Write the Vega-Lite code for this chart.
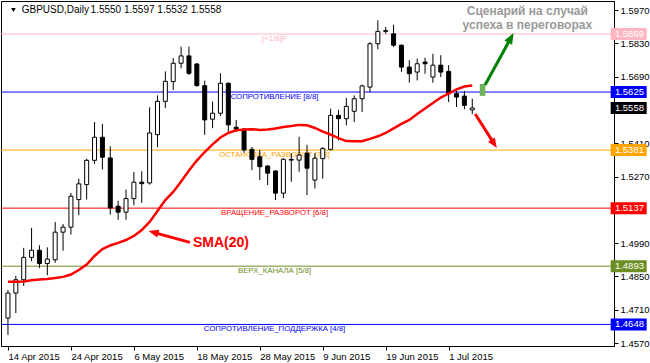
{
  "$schema": "https://vega.github.io/schema/vega-lite/v6.json",
  "width": 613,
  "height": 345,
  "autosize": {"type": "none"},
  "padding": {"left": 1, "top": 1, "right": 36, "bottom": 17},
  "background": "white",
  "config": {"view": {"stroke": "black", "strokeWidth": 1}, "font": "Liberation Sans"},
  "datasets": {
    "bars": [
      {"date": "14 Apr 2015", "i": 0, "open": 1.4675, "high": 1.4793, "low": 1.4604, "close": 1.4780, "sma": 1.4827},
      {"date": "15 Apr 2015", "i": 1, "open": 1.4780, "high": 1.4852, "low": 1.4696, "close": 1.4836, "sma": 1.4827},
      {"date": "16 Apr 2015", "i": 2, "open": 1.4836, "high": 1.4970, "low": 1.4810, "close": 1.4930, "sma": 1.4829},
      {"date": "17 Apr 2015", "i": 3, "open": 1.4930, "high": 1.5054, "low": 1.4914, "close": 1.4960, "sma": 1.4834},
      {"date": "20 Apr 2015", "i": 4, "open": 1.4960, "high": 1.4981, "low": 1.4885, "close": 1.4904, "sma": 1.4837},
      {"date": "21 Apr 2015", "i": 5, "open": 1.4904, "high": 1.4972, "low": 1.4855, "close": 1.4923, "sma": 1.4839},
      {"date": "22 Apr 2015", "i": 6, "open": 1.4920, "high": 1.5079, "low": 1.4907, "close": 1.5036, "sma": 1.4843},
      {"date": "23 Apr 2015", "i": 7, "open": 1.5036, "high": 1.5070, "low": 1.4958, "close": 1.5057, "sma": 1.4848},
      {"date": "24 Apr 2015", "i": 8, "open": 1.5057, "high": 1.5201, "low": 1.5026, "close": 1.5187, "sma": 1.4858},
      {"date": "27 Apr 2015", "i": 9, "open": 1.5173, "high": 1.5261, "low": 1.5107, "close": 1.5239, "sma": 1.4877},
      {"date": "28 Apr 2015", "i": 10, "open": 1.5236, "high": 1.5345, "low": 1.5173, "close": 1.5338, "sma": 1.4900},
      {"date": "29 Apr 2015", "i": 11, "open": 1.5338, "high": 1.5499, "low": 1.5323, "close": 1.5435, "sma": 1.4936},
      {"date": "30 Apr 2015", "i": 12, "open": 1.5435, "high": 1.5491, "low": 1.5299, "close": 1.5351, "sma": 1.4965},
      {"date": "1 May 2015", "i": 13, "open": 1.5348, "high": 1.5397, "low": 1.5110, "close": 1.5138, "sma": 1.4980},
      {"date": "4 May 2015", "i": 14, "open": 1.5145, "high": 1.5168, "low": 1.5088, "close": 1.5120, "sma": 1.4991},
      {"date": "5 May 2015", "i": 15, "open": 1.5120, "high": 1.5215, "low": 1.5088, "close": 1.5177, "sma": 1.5003},
      {"date": "6 May 2015", "i": 16, "open": 1.5177, "high": 1.5289, "low": 1.5149, "close": 1.5246, "sma": 1.5020},
      {"date": "7 May 2015", "i": 17, "open": 1.5246, "high": 1.5292, "low": 1.5159, "close": 1.5240, "sma": 1.5045},
      {"date": "8 May 2015", "i": 18, "open": 1.5243, "high": 1.5561, "low": 1.5236, "close": 1.5453, "sma": 1.5079},
      {"date": "11 May 2015", "i": 19, "open": 1.5446, "high": 1.5611, "low": 1.5393, "close": 1.5586, "sma": 1.5125},
      {"date": "12 May 2015", "i": 20, "open": 1.5586, "high": 1.5712, "low": 1.5558, "close": 1.5670, "sma": 1.5171},
      {"date": "13 May 2015", "i": 21, "open": 1.5669, "high": 1.5768, "low": 1.5634, "close": 1.5746, "sma": 1.5205},
      {"date": "14 May 2015", "i": 22, "open": 1.5746, "high": 1.5816, "low": 1.5725, "close": 1.5777, "sma": 1.5249},
      {"date": "15 May 2015", "i": 23, "open": 1.5777, "high": 1.5816, "low": 1.5697, "close": 1.5704, "sma": 1.5295},
      {"date": "18 May 2015", "i": 24, "open": 1.5743, "high": 1.5747, "low": 1.5648, "close": 1.5652, "sma": 1.5337},
      {"date": "19 May 2015", "i": 25, "open": 1.5652, "high": 1.5673, "low": 1.5445, "close": 1.5508, "sma": 1.5373},
      {"date": "20 May 2015", "i": 26, "open": 1.5511, "high": 1.5585, "low": 1.5473, "close": 1.5536, "sma": 1.5405},
      {"date": "21 May 2015", "i": 27, "open": 1.5536, "high": 1.5704, "low": 1.5524, "close": 1.5662, "sma": 1.5434},
      {"date": "22 May 2015", "i": 28, "open": 1.5662, "high": 1.5665, "low": 1.5458, "close": 1.5487, "sma": 1.5453},
      {"date": "25 May 2015", "i": 29, "open": 1.5477, "high": 1.5508, "low": 1.5458, "close": 1.5469, "sma": 1.5464},
      {"date": "26 May 2015", "i": 30, "open": 1.5469, "high": 1.5473, "low": 1.5370, "close": 1.5382, "sma": 1.5468},
      {"date": "27 May 2015", "i": 31, "open": 1.5384, "high": 1.5394, "low": 1.5297, "close": 1.5342, "sma": 1.5469},
      {"date": "28 May 2015", "i": 32, "open": 1.5353, "high": 1.5382, "low": 1.5255, "close": 1.5311, "sma": 1.5466},
      {"date": "29 May 2015", "i": 33, "open": 1.5314, "high": 1.5318, "low": 1.5234, "close": 1.5284, "sma": 1.5468},
      {"date": "1 Jun 2015", "i": 34, "open": 1.5293, "high": 1.5297, "low": 1.5171, "close": 1.5200, "sma": 1.5472},
      {"date": "2 Jun 2015", "i": 35, "open": 1.5200, "high": 1.5347, "low": 1.5179, "close": 1.5342, "sma": 1.5478},
      {"date": "3 Jun 2015", "i": 36, "open": 1.5342, "high": 1.5368, "low": 1.5248, "close": 1.5339, "sma": 1.5482},
      {"date": "4 Jun 2015", "i": 37, "open": 1.5339, "high": 1.5437, "low": 1.5290, "close": 1.5360, "sma": 1.5487},
      {"date": "5 Jun 2015", "i": 38, "open": 1.5368, "high": 1.5403, "low": 1.5192, "close": 1.5305, "sma": 1.5485},
      {"date": "8 Jun 2015", "i": 39, "open": 1.5255, "high": 1.5368, "low": 1.5220, "close": 1.5347, "sma": 1.5474},
      {"date": "9 Jun 2015", "i": 40, "open": 1.5345, "high": 1.5394, "low": 1.5261, "close": 1.5387, "sma": 1.5459},
      {"date": "10 Jun 2015", "i": 41, "open": 1.5384, "high": 1.5555, "low": 1.5380, "close": 1.5527, "sma": 1.5446},
      {"date": "11 Jun 2015", "i": 42, "open": 1.5527, "high": 1.5550, "low": 1.5422, "close": 1.5513, "sma": 1.5431},
      {"date": "12 Jun 2015", "i": 43, "open": 1.5513, "high": 1.5600, "low": 1.5485, "close": 1.5565, "sma": 1.5419},
      {"date": "15 Jun 2015", "i": 44, "open": 1.5544, "high": 1.5611, "low": 1.5499, "close": 1.5597, "sma": 1.5418},
      {"date": "16 Jun 2015", "i": 45, "open": 1.5597, "high": 1.5656, "low": 1.5541, "close": 1.5651, "sma": 1.5418},
      {"date": "17 Jun 2015", "i": 46, "open": 1.5646, "high": 1.5835, "low": 1.5625, "close": 1.5828, "sma": 1.5428},
      {"date": "18 Jun 2015", "i": 47, "open": 1.5828, "high": 1.5927, "low": 1.5805, "close": 1.5880, "sma": 1.5439},
      {"date": "19 Jun 2015", "i": 48, "open": 1.5880, "high": 1.5899, "low": 1.5870, "close": 1.5884, "sma": 1.5453},
      {"date": "22 Jun 2015", "i": 49, "open": 1.5870, "high": 1.5908, "low": 1.5814, "close": 1.5822, "sma": 1.5472},
      {"date": "23 Jun 2015", "i": 50, "open": 1.5822, "high": 1.5825, "low": 1.5709, "close": 1.5730, "sma": 1.5491},
      {"date": "24 Jun 2015", "i": 51, "open": 1.5730, "high": 1.5759, "low": 1.5664, "close": 1.5702, "sma": 1.5508},
      {"date": "25 Jun 2015", "i": 52, "open": 1.5709, "high": 1.5765, "low": 1.5674, "close": 1.5744, "sma": 1.5533},
      {"date": "26 Jun 2015", "i": 53, "open": 1.5751, "high": 1.5769, "low": 1.5702, "close": 1.5744, "sma": 1.5556},
      {"date": "29 Jun 2015", "i": 54, "open": 1.5688, "high": 1.5786, "low": 1.5664, "close": 1.5738, "sma": 1.5579},
      {"date": "30 Jun 2015", "i": 55, "open": 1.5738, "high": 1.5780, "low": 1.5688, "close": 1.5709, "sma": 1.5602},
      {"date": "1 Jul 2015", "i": 56, "open": 1.5712, "high": 1.5738, "low": 1.5583, "close": 1.5618, "sma": 1.5619},
      {"date": "2 Jul 2015", "i": 57, "open": 1.5618, "high": 1.5632, "low": 1.5562, "close": 1.5604, "sma": 1.5636},
      {"date": "3 Jul 2015", "i": 58, "open": 1.5608, "high": 1.5630, "low": 1.5553, "close": 1.5569, "sma": 1.5648},
      {"date": "6 Jul 2015", "i": 59, "open": 1.5550, "high": 1.5597, "low": 1.5532, "close": 1.5558, "sma": 1.5653}
    ],
    "levels": [
      {"level": 1.5869, "label": "[+1/8]P"},
      {"level": 1.5625, "label": "СОПРОТИВЛЕНИЕ [8/8]"},
      {"level": 1.5381, "label": "ОСТАНОВКА_РАЗВОРОТ [7/8]"},
      {"level": 1.5137, "label": "ВРАЩЕНИЕ_РАЗВОРОТ [6/8]"},
      {"level": 1.4893, "label": "ВЕРХ_КАНАЛА [5/8]"},
      {"level": 1.4648, "label": "СОПРОТИВЛЕНИЕ_ПОДДЕРЖКА [4/8]"}
    ],
    "tags": [
      {"level": 1.5869, "label": "[+1/8]P"},
      {"level": 1.5625, "label": "СОПРОТИВЛЕНИЕ [8/8]"},
      {"level": 1.5558, "label": "close"},
      {"level": 1.5381, "label": "ОСТАНОВКА_РАЗВОРОТ [7/8]"},
      {"level": 1.5137, "label": "ВРАЩЕНИЕ_РАЗВОРОТ [6/8]"},
      {"level": 1.4893, "label": "ВЕРХ_КАНАЛА [5/8]"},
      {"level": 1.4648, "label": "СОПРОТИВЛЕНИЕ_ПОДДЕРЖКА [4/8]"}
    ],
    "arrows": [
      {"name": "up", "i1": 60.625, "p1": 1.5655, "i2": 63.83, "p2": 1.58477, "ti": 64.25, "tp": 1.5873},
      {"name": "down", "i1": 59.375, "p1": 1.5533, "i2": 61.65, "p2": 1.54147, "ti": 62.125, "tp": 1.5390},
      {"name": "sma", "i1": 23.125, "p1": 1.4993, "i2": 18.71, "p2": 1.5033, "ti": 17.875, "tp": 1.5041}
    ],
    "projection": [
      {"i1": 59.96, "i2": 60.66, "p1": 1.5659, "p2": 1.5609}
    ],
    "notes": [
      {"kind": "scenario", "i": 66, "p": 1.59658, "text": "Сценарий на случай"},
      {"kind": "scenario", "i": 66, "p": 1.59069, "text": "успеха в переговорах"},
      {"kind": "sma", "i": 27.06, "p": 1.49906, "text": "SMA(20)"},
      {"kind": "symbol", "i": 1.75, "p": 1.5970, "text": "GBPUSD,Daily"},
      {"kind": "ohlc", "i": 10.5, "p": 1.5970, "text": "1.5550 1.5597 1.5532 1.5558"}
    ]
  },
  "layer": [
    {
      "data": {"name": "levels"},
      "mark": {"type": "rule", "strokeWidth": 1},
      "encoding": {
        "y": {
          "field": "level", "type": "quantitative", "title": null,
          "scale": {"domain": [1.455739, 1.600784], "zero": false, "nice": false},
          "axis": {
            "orient": "right", "values": [1.597, 1.583, 1.569, 1.541, 1.527, 1.499, 1.485, 1.471, 1.457],
            "format": ".4f", "tickSize": 4, "tickColor": "black", "domainColor": "black",
            "labelColor": "black", "labelFontSize": 9.5, "labelPadding": 2, "grid": false,
            "labelFont": "Liberation Sans", "labelOverlap": false, "labelFlush": false
          }
        },
        "color": {
          "field": "label", "type": "nominal", "legend": null,
          "scale": {
            "domain": ["[+1/8]P", "СОПРОТИВЛЕНИЕ [8/8]", "ОСТАНОВКА_РАЗВОРОТ [7/8]", "ВРАЩЕНИЕ_РАЗВОРОТ [6/8]", "ВЕРХ_КАНАЛА [5/8]", "СОПРОТИВЛЕНИЕ_ПОДДЕРЖКА [4/8]", "close"],
            "range": ["#FFB6C1", "#0000FF", "#FFA500", "#FF0000", "#6B8E23", "#0000FF", "#000000"]
          }
        }
      }
    },
    {
      "data": {"name": "levels"},
      "mark": {"type": "text", "fontSize": 7.8, "align": "center", "baseline": "middle", "dy": 5, "font": "Liberation Sans"},
      "encoding": {
        "x": {"datum": 33.875, "type": "quantitative", "title": null},
        "y": {"field": "level", "type": "quantitative", "title": null},
        "text": {"field": "label"},
        "color": {"field": "label", "type": "nominal", "legend": null}
      }
    },
    {
      "data": {"name": "bars"},
      "mark": {"type": "rule", "color": "black", "strokeWidth": 1},
      "encoding": {
        "x": {
          "field": "i", "type": "quantitative", "title": null,
          "scale": {"domain": [-0.25, 76.375], "zero": false, "nice": false},
          "axis": {
            "values": [0, 8, 16, 24, 32, 40, 48, 56],
            "labelExpr": "['14 Apr 2015','24 Apr 2015','6 May 2015','18 May 2015','28 May 2015','9 Jun 2015','19 Jun 2015','1 Jul 2015'][round(datum.value/8)]",
            "tickSize": 4, "tickColor": "black", "domainColor": "black", "labelColor": "black",
            "labelFontSize": 9.5, "labelFont": "Liberation Sans", "labelAlign": "left", "labelBaseline": "top",
            "labelPadding": 1, "labelDx": -1, "grid": false, "labelFlush": false, "labelOverlap": false
          }
        },
        "y": {"field": "low", "type": "quantitative", "title": null},
        "y2": {"field": "high"}
      }
    },
    {
      "data": {"name": "bars"},
      "mark": {"type": "bar", "width": 4, "stroke": "black", "strokeWidth": 1},
      "encoding": {
        "x": {"field": "i", "type": "quantitative", "title": null},
        "y": {"field": "open", "type": "quantitative", "title": null},
        "y2": {"field": "close"},
        "fill": {"condition": {"test": "datum.close < datum.open", "value": "black"}, "value": "white"}
      }
    },
    {
      "data": {"name": "bars"},
      "mark": {"type": "line", "color": "#FF0000", "strokeWidth": 2.5},
      "encoding": {
        "x": {"field": "i", "type": "quantitative", "title": null},
        "y": {"field": "sma", "type": "quantitative", "title": null}
      }
    },
    {
      "data": {"name": "projection"},
      "mark": {"type": "rect", "color": "#6DB35C"},
      "encoding": {
        "x": {"field": "i1", "type": "quantitative", "title": null},
        "x2": {"field": "i2"},
        "y": {"field": "p1", "type": "quantitative", "title": null},
        "y2": {"field": "p2"}
      }
    },
    {
      "data": {"name": "arrows"},
      "mark": {"type": "rule", "strokeWidth": 3},
      "encoding": {
        "x": {"field": "i1", "type": "quantitative", "title": null},
        "x2": {"field": "i2"},
        "y": {"field": "p1", "type": "quantitative", "title": null},
        "y2": {"field": "p2"},
        "stroke": {"field": "name", "type": "nominal", "legend": null, "scale": {"domain": ["up", "down", "sma"], "range": ["#008000", "#FF0000", "#FF0000"]}}
      }
    },
    {
      "data": {"name": "arrows"},
      "transform": [{"filter": "datum.name == 'up'"}],
      "mark": {"type": "point", "shape": "M0,0 L-0.4,1 L0.4,1 Z", "filled": true, "size": 484, "angle": 29.1, "color": "#008000", "opacity": 1},
      "encoding": {
        "x": {"field": "ti", "type": "quantitative", "title": null},
        "y": {"field": "tp", "type": "quantitative", "title": null}
      }
    },
    {
      "data": {"name": "arrows"},
      "transform": [{"filter": "datum.name == 'down'"}],
      "mark": {"type": "point", "shape": "M0,0 L-0.4,1 L0.4,1 Z", "filled": true, "size": 400, "angle": 147.1, "color": "#FF0000", "opacity": 1},
      "encoding": {
        "x": {"field": "ti", "type": "quantitative", "title": null},
        "y": {"field": "tp", "type": "quantitative", "title": null}
      }
    },
    {
      "data": {"name": "arrows"},
      "transform": [{"filter": "datum.name == 'sma'"}],
      "mark": {"type": "point", "shape": "M0,0 L-0.4,1 L0.4,1 Z", "filled": true, "size": 400, "angle": 285.4, "color": "#FF0000", "opacity": 1},
      "encoding": {
        "x": {"field": "ti", "type": "quantitative", "title": null},
        "y": {"field": "tp", "type": "quantitative", "title": null}
      }
    },
    {
      "data": {"name": "notes"},
      "transform": [{"filter": "datum.kind == 'scenario'"}],
      "mark": {"type": "text", "fontSize": 12, "fontWeight": "bold", "color": "#999999", "align": "center", "baseline": "middle", "font": "Liberation Sans"},
      "encoding": {
        "x": {"field": "i", "type": "quantitative", "title": null},
        "y": {"field": "p", "type": "quantitative", "title": null},
        "text": {"field": "text"}
      }
    },
    {
      "data": {"name": "notes"},
      "transform": [{"filter": "datum.kind == 'sma'"}],
      "mark": {"type": "text", "fontSize": 14, "fontWeight": "bold", "color": "#FF0000", "align": "center", "baseline": "middle", "font": "Liberation Sans"},
      "encoding": {
        "x": {"field": "i", "type": "quantitative", "title": null},
        "y": {"field": "p", "type": "quantitative", "title": null},
        "text": {"field": "text"}
      }
    },
    {
      "data": {"name": "notes"},
      "transform": [{"filter": "datum.kind == 'symbol' || datum.kind == 'ohlc'"}],
      "mark": {"type": "text", "fontSize": 10, "color": "black", "align": "left", "baseline": "middle", "font": "Liberation Sans"},
      "encoding": {
        "x": {"field": "i", "type": "quantitative", "title": null},
        "y": {"field": "p", "type": "quantitative", "title": null},
        "text": {"field": "text"}
      }
    },
    {
      "data": {"name": "notes"},
      "transform": [{"filter": "datum.kind == 'symbol'"}],
      "mark": {"type": "point", "shape": "triangle-down", "filled": true, "size": 22, "color": "black", "opacity": 1},
      "encoding": {
        "x": {"datum": 0.6875, "type": "quantitative", "title": null},
        "y": {"field": "p", "type": "quantitative", "title": null}
      }
    },
    {
      "data": {"name": "tags"},
      "mark": {"type": "rect", "width": 36, "height": 12, "clip": false},
      "encoding": {
        "x": {"datum": 78.875, "type": "quantitative", "title": null},
        "y": {"field": "level", "type": "quantitative", "title": null},
        "color": {"field": "label", "type": "nominal", "legend": null}
      }
    },
    {
      "data": {"name": "tags"},
      "mark": {"type": "text", "fontSize": 9.5, "color": "white", "align": "left", "baseline": "middle", "font": "Liberation Sans", "clip": false},
      "encoding": {
        "x": {"datum": 77.125, "type": "quantitative", "title": null},
        "y": {"field": "level", "type": "quantitative", "title": null},
        "text": {"field": "level", "type": "quantitative", "format": ".4f"}
      }
    }
  ]
}
